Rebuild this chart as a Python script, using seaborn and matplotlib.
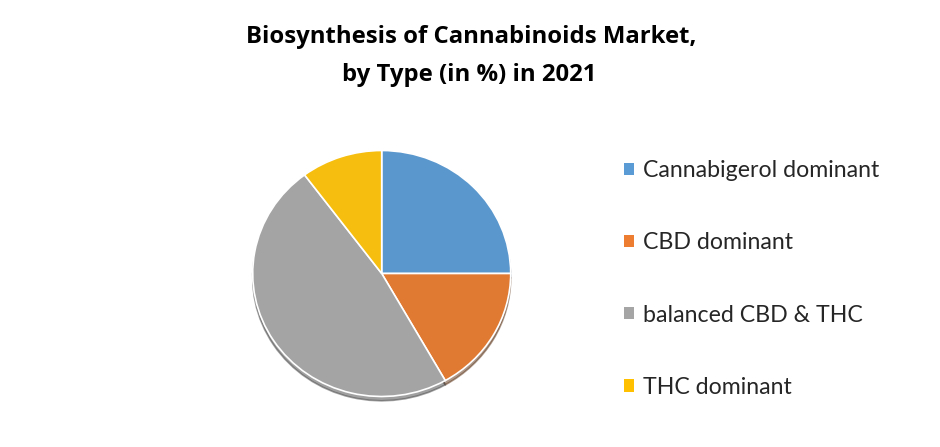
import numpy as np
import seaborn as sns
import matplotlib.pyplot as plt
from matplotlib.patches import Patch

# data (share in %)
types = ["Cannabigerol dominant", "CBD dominant", "balanced CBD & THC", "THC dominant"]
shares = [25.0, 16.8, 48.0, 10.2]
legend_colors = ["#5B9BD5", "#ED7D31", "#A5A5A5", "#FFC000"]
wedge_colors = ["#5A97CD", "#E07A33", "#A4A4A4", "#F6BE0E"]
title_lines = ["Biosynthesis of Cannabinoids Market,", "by Type (in %) in 2021"]

sns.set_theme(style="white")
plt.rcParams["font.family"] = ["Lato", "DejaVu Sans"]

W, H = 940, 447
fig = plt.figure(figsize=(W / 100, H / 100), dpi=100)
fig.patch.set_facecolor("white")

# pie axes: centre (381.7, 273.5) px, a touch wider than tall like the reference
cx, cy, rx, ry = 381.7, 273.5, 129, 123
ax = fig.add_axes([(cx - rx) / W, (H - cy - ry) / H, 2 * rx / W, 2 * ry / H])
ax.pie(shares, colors=sns.color_palette(wedge_colors), startangle=90, counterclock=False,
       radius=1.0, wedgeprops=dict(edgecolor="white", linewidth=1.2),
       shadow=dict(ox=0.0, oy=-0.025, shade=0.6))
ax.set_xlim(-1, 1)
ax.set_ylim(-1, 1)
ax.set_aspect("auto")
ax.axis("off")

# title
for txt, x, y in zip(title_lines, [471, 469], [43, 81]):
    fig.text(x / W, 1 - y / H, txt, ha="center", va="baseline", fontsize=17.2,
             fontweight="bold", color="black", family=["Open Sans", "DejaVu Sans"])

# legend
handles = [Patch(facecolor=c, edgecolor="none") for c in legend_colors]
fig.legend(handles, types, loc="center left", bbox_to_anchor=(624 / W, 1 - 279 / H),
           frameon=False, fontsize=16.7, handlelength=0.45, handleheight=0.45,
           handletextpad=0.38, labelspacing=2.2, borderpad=0, borderaxespad=0,
           labelcolor="#262626")

fig.savefig("out.png", dpi=100, facecolor="white")
